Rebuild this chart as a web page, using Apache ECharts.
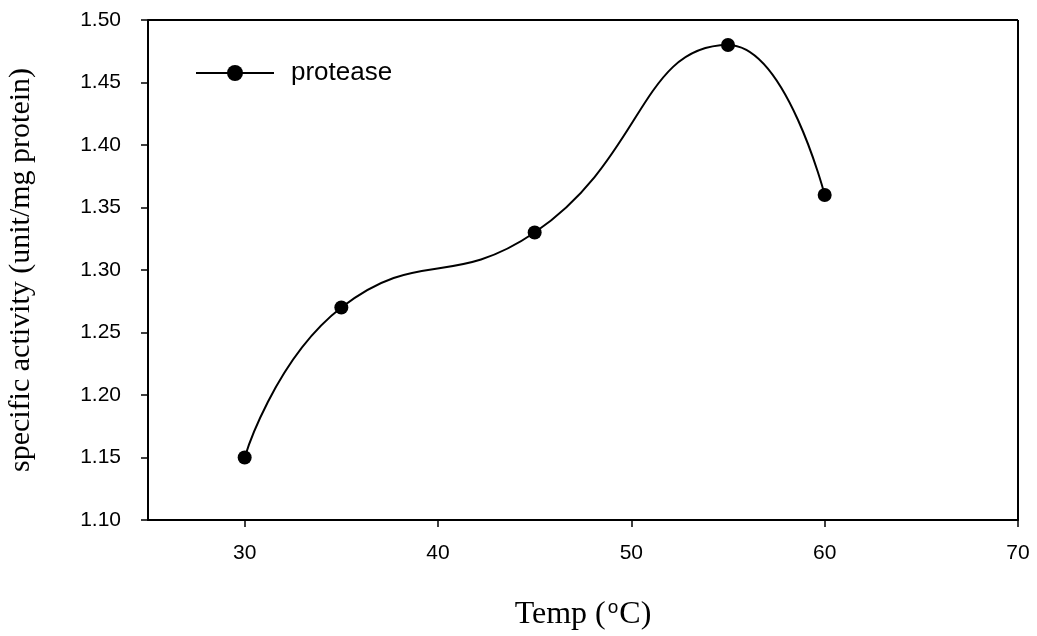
<!DOCTYPE html>
<html>
<head>
<meta charset="utf-8">
<script src="https://cdn.jsdelivr.net/npm/echarts@6/dist/echarts.min.js"></script>
<style>
  html, body { margin: 0; padding: 0; background: #fff; }
  #chart { width: 1037px; height: 636px; }
</style>
</head>
<body>
<div id="chart"></div>
<script>
// temperature (C) vs specific activity
var temps = [30, 35, 45, 55, 60]
var activity = [1.15, 1.27, 1.33, 1.48, 1.36]
var xTicks = [30, 40, 50, 60, 70]

var dom = document.getElementById('chart')
var chart = echarts.init(dom)

var points = temps.map(function (t, i) { return [t, activity[i]] })

var option = {
    backgroundColor: '#fff',
    animation: false,
    grid: { left: 148, right: 19, top: 20, bottom: 116, outerBoundsMode: 'none' },
    legend: {
        left: 190, top: 55,
        itemWidth: 78, itemHeight: 20,
        itemGap: 0,
        textStyle: { fontFamily: 'Liberation Sans', fontSize: 26, color: '#000', padding: [0, 0, 0, 12] },
        data: ['protease']
    },
    xAxis: {
        type: 'value', min: 25, max: 70,
        name: '{n|Temp (}{s|o}{n|C)}',
        nameLocation: 'middle', nameGap: 78,
        nameTextStyle: {
            rich: {
                n: { fontFamily: 'Liberation Serif', fontSize: 32, color: '#000' },
                s: { fontFamily: 'Liberation Sans', fontSize: 19, color: '#000', verticalAlign: 'top', padding: [0, 1, 14, 2] }
            }
        },
        axisLine: { show: true, lineStyle: { color: '#000', width: 2 } },
        axisTick: { show: true, length: 7, customValues: xTicks, lineStyle: { color: '#000', width: 1.5 } },
        axisLabel: { customValues: xTicks, margin: 23, fontFamily: 'Liberation Sans', fontSize: 21, color: '#000' },
        splitLine: { show: false }
    },
    yAxis: {
        type: 'value', min: 1.10, max: 1.50, interval: 0.05,
        name: 'specific activity (unit/mg protein)',
        nameLocation: 'middle', nameGap: 112,
        nameTextStyle: { fontFamily: 'Liberation Serif', fontSize: 30, color: '#000' },
        axisLine: { show: true, lineStyle: { color: '#000', width: 2 } },
        axisTick: { show: true, length: 7, lineStyle: { color: '#000', width: 1.5 } },
        axisLabel: {
            margin: 27, fontFamily: 'Liberation Sans', fontSize: 21, color: '#000',
            formatter: function (v) { return v.toFixed(2) }
        },
        splitLine: { show: false }
    },
    series: [
        {
            name: 'protease',
            type: 'line',
            data: points,
            smooth: 0.5,
            symbol: 'circle',
            symbolSize: 14,
            itemStyle: { color: '#000' },
            lineStyle: { color: '#000', width: 2 }
        }
    ],
    graphic: [
        // top and right frame of the plot box
        { type: 'line', shape: { x1: 148, y1: 20, x2: 1018, y2: 20 }, style: { stroke: '#000', lineWidth: 2 } },
        { type: 'line', shape: { x1: 1018, y1: 20, x2: 1018, y2: 520 }, style: { stroke: '#000', lineWidth: 2 } }
    ]
}

chart.setOption(option)
</script>
</body>
</html>
